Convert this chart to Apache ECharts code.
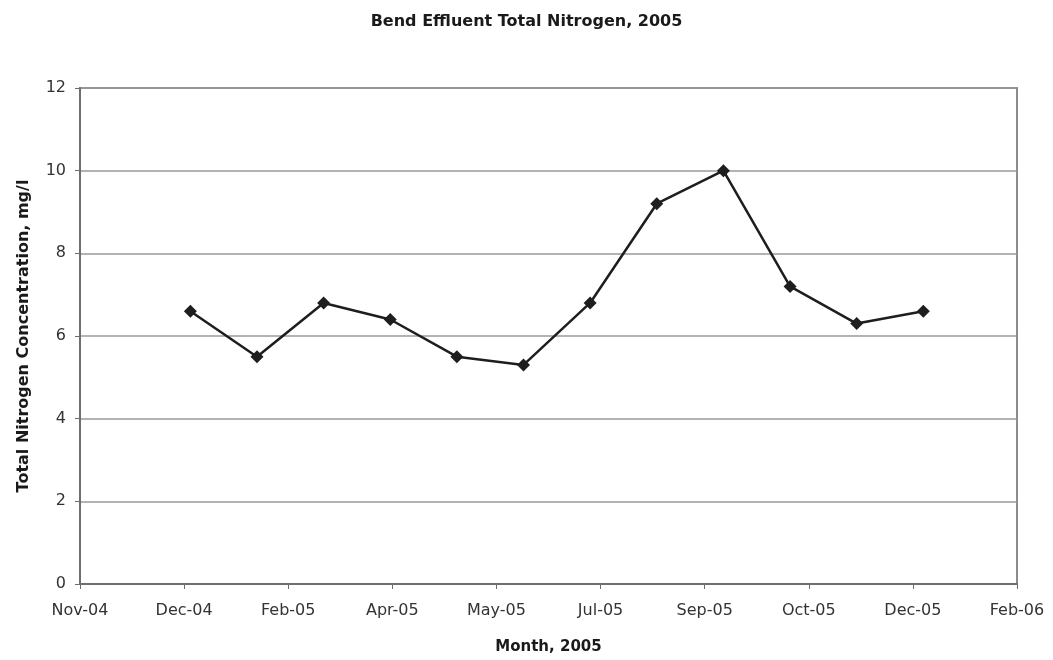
<!DOCTYPE html>
<html>
<head>
<meta charset="utf-8">
<title>Bend Effluent Total Nitrogen, 2005</title>
<script src="https://cdn.jsdelivr.net/npm/echarts@6/dist/echarts.min.js"></script>
<style>
  html, body { margin: 0; padding: 0; background: #ffffff; }
  #chart { width: 1053px; height: 660px; }
</style>
</head>
<body>
<div id="chart"></div>
<script>
// Sample dates and measured total nitrogen (mg/l) at the Bend effluent
const sampleDates = [
  '2005-01-01', '2005-02-02', '2005-03-06', '2005-04-07',
  '2005-05-09', '2005-06-10', '2005-07-12', '2005-08-13',
  '2005-09-14', '2005-10-16', '2005-11-17', '2005-12-19'
];
const nitrogen = [6.6, 5.5, 6.8, 6.4, 5.5, 5.3, 6.8, 9.2, 10.0, 7.2, 6.3, 6.6];

// Date axis in spreadsheet serial days (day 0 = 1899-12-30)
const xAxisRange = { min: 38300, max: 38750, step: 50 };
const yAxisRange = { min: 0, max: 12, step: 2 };
const monthNames = ['Jan', 'Feb', 'Mar', 'Apr', 'May', 'Jun',
                    'Jul', 'Aug', 'Sep', 'Oct', 'Nov', 'Dec'];

const SERIAL_EPOCH = Date.UTC(1899, 11, 30);
const DAY_MS = 86400000;

function toSerial(iso) {
  const [y, m, d] = iso.split('-').map(Number);
  return Math.round((Date.UTC(y, m - 1, d) - SERIAL_EPOCH) / DAY_MS);
}
function serialLabel(serial) {
  const d = new Date(SERIAL_EPOCH + serial * DAY_MS);
  const yy = String(d.getUTCFullYear() % 100).padStart(2, '0');
  return monthNames[d.getUTCMonth()] + '-' + yy;
}

const points = sampleDates.map((s, i) => [toSerial(s), nitrogen[i]]);

const chart = echarts.init(document.getElementById('chart'));
const textFont = 'DejaVu Sans';

chart.setOption({
  backgroundColor: '#ffffff',
  animation: false,
  title: {
    text: 'Bend Effluent Total Nitrogen, 2005',
    left: 'center',
    top: 9,
    textStyle: { fontFamily: textFont, fontSize: 16, fontWeight: 'bold', color: '#1a1a1a' }
  },
  grid: {
    left: 80, right: 36, top: 88, bottom: 74,
    show: true,
    borderColor: '#8c8c8c',
    borderWidth: 2,
    backgroundColor: '#ffffff'
  },
  xAxis: {
    type: 'value',
    min: xAxisRange.min,
    max: xAxisRange.max,
    interval: xAxisRange.step,
    name: 'Month, 2005',
    nameLocation: 'middle',
    nameGap: 56,
    nameTextStyle: { fontFamily: textFont, fontSize: 15, fontWeight: 'bold', color: '#1a1a1a' },
    axisLine: { show: true, lineStyle: { color: '#6e6e6e', width: 2 } },
    axisTick: { show: true, length: 5, lineStyle: { color: '#6e6e6e', width: 1 } },
    axisLabel: {
      fontFamily: textFont, fontSize: 16, color: '#333333', margin: 19,
      formatter: serialLabel
    },
    splitLine: { show: false }
  },
  yAxis: {
    type: 'value',
    min: yAxisRange.min,
    max: yAxisRange.max,
    interval: yAxisRange.step,
    name: 'Total Nitrogen Concentration, mg/l',
    nameLocation: 'middle',
    nameGap: 48,
    nameTextStyle: { fontFamily: textFont, fontSize: 16, fontWeight: 'bold', color: '#1a1a1a' },
    axisLine: { show: true, lineStyle: { color: '#6e6e6e', width: 2 } },
    axisTick: { show: true, length: 5, lineStyle: { color: '#6e6e6e', width: 1 } },
    axisLabel: { fontFamily: textFont, fontSize: 16, color: '#333333', margin: 14 },
    splitLine: { show: true, lineStyle: { color: '#9a9a9a', width: 1.5 } }
  },
  series: [{
    type: 'line',
    data: points,
    symbol: 'diamond',
    symbolSize: 13,
    lineStyle: { color: '#1e1e1e', width: 2.5 },
    itemStyle: { color: '#1e1e1e' }
  }]
});
</script>
</body>
</html>
